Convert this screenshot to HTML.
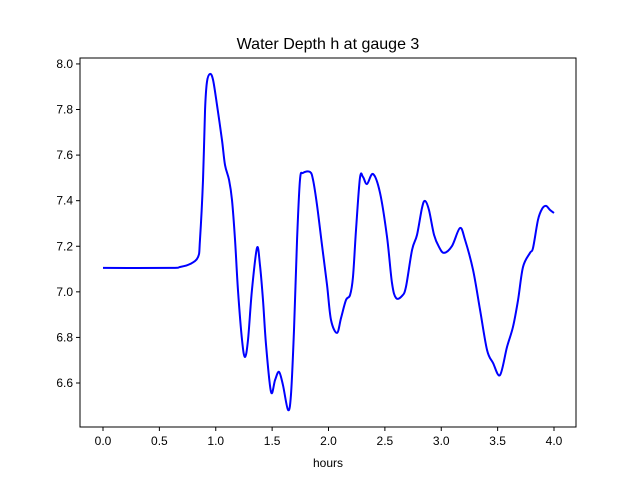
<!DOCTYPE html>
<html><head><meta charset="utf-8"><style>
body{margin:0;background:#fff}
svg{display:block;font-family:"Liberation Sans","DejaVu Sans",sans-serif}
</style></head><body>
<svg id="chart" width="640" height="480">
<rect width="640" height="480" fill="#fff"/>
<text x="328" y="49" text-anchor="middle" font-size="16">Water Depth h at gauge 3</text>
<g id="plot"></g>
<rect x="80" y="58" width="496" height="369" fill="none" stroke="#000" stroke-width="1"/>
<g id="xt"></g><g id="yt"></g>
<text x="328" y="467" text-anchor="middle" font-size="12">hours</text>
</svg>
<script>
const hours=[0,0.594,0.683,0.772,0.843,0.860,0.887,0.905,0.922,0.949,0.976,1.011,1.055,1.082,1.118,1.144,1.171,1.197,1.233,1.259,1.286,1.321,1.366,1.392,1.419,1.446,1.490,1.526,1.561,1.596,1.641,1.667,1.694,1.721,1.747,1.774,1.836,1.863,1.898,1.942,1.987,2.022,2.075,2.111,2.155,2.191,2.217,2.244,2.279,2.306,2.341,2.395,2.457,2.519,2.563,2.599,2.652,2.687,2.741,2.785,2.829,2.856,2.891,2.936,2.980,3.024,3.095,3.166,3.211,3.282,3.344,3.406,3.459,3.521,3.583,3.636,3.681,3.725,3.787,3.814,3.858,3.894,3.929,3.965,4.000];
const depth=[7.105,7.105,7.109,7.122,7.153,7.228,7.491,7.798,7.921,7.956,7.930,7.820,7.667,7.557,7.491,7.403,7.228,7.008,6.789,6.714,6.789,7.008,7.193,7.118,6.964,6.767,6.561,6.613,6.649,6.591,6.482,6.548,6.833,7.228,7.491,7.522,7.526,7.491,7.381,7.206,7.030,6.877,6.820,6.885,6.964,6.986,7.065,7.272,7.500,7.504,7.473,7.517,7.434,7.241,7.039,6.973,6.982,7.022,7.184,7.250,7.368,7.399,7.359,7.250,7.197,7.171,7.201,7.280,7.228,7.096,6.921,6.745,6.688,6.635,6.758,6.846,6.964,7.109,7.171,7.193,7.316,7.364,7.377,7.359,7.346];
const xTicks=[0,0.5,1,1.5,2,2.5,3,3.5,4];
const yTicks=[6.6,6.8,7.0,7.2,7.4,7.6,7.8,8.0];
const X0=-0.204,X1=4.195,Y0=6.407,Y1=8.026;
const L=80,R=576,T=58,B=427;
const sx=v=>L+(v-X0)/(X1-X0)*(R-L);
const sy=v=>B-(v-Y0)/(Y1-Y0)*(B-T);
const NS="http://www.w3.org/2000/svg";
const pts=hours.map((h,i)=>[sx(h),sy(depth[i])]);
let d="M"+pts[0][0]+","+pts[0][1];
for(let i=0;i<pts.length-1;i++){
 const p0=pts[Math.max(0,i-1)],p1=pts[i],p2=pts[i+1],p3=pts[Math.min(pts.length-1,i+2)];
 const c1=[p1[0]+(p2[0]-p0[0])/6,p1[1]+(p2[1]-p0[1])/6];
 const c2=[p2[0]-(p3[0]-p1[0])/6,p2[1]-(p3[1]-p1[1])/6];
 d+=` C${c1[0]},${c1[1]} ${c2[0]},${c2[1]} ${p2[0]},${p2[1]}`;
}
const path=document.createElementNS(NS,"path");


path.setAttribute("d",d);path.setAttribute("fill","none");path.setAttribute("stroke","#0000ff");path.setAttribute("stroke-width","2");
document.getElementById("plot").appendChild(path);
const xt=document.getElementById("xt");
xTicks.forEach(v=>{
 const x=sx(v);
 const l=document.createElementNS(NS,"line");
 
 
 l.setAttribute("x1",x);l.setAttribute("x2",x);l.setAttribute("y1",B);l.setAttribute("y2",B+4);l.setAttribute("stroke","#000");
 xt.appendChild(l);
 const t=document.createElementNS(NS,"text");
 
 
 t.setAttribute("x",x);t.setAttribute("y",B+18);t.setAttribute("text-anchor","middle");t.setAttribute("font-size","12");
 t.textContent=v.toFixed(1);xt.appendChild(t);
});
const yt=document.getElementById("yt");
yTicks.forEach(v=>{
 const y=sy(v);
 const l=document.createElementNS(NS,"line");
 
 
 l.setAttribute("x1",L-4);l.setAttribute("x2",L);l.setAttribute("y1",y);l.setAttribute("y2",y);l.setAttribute("stroke","#000");
 yt.appendChild(l);
 const t=document.createElementNS(NS,"text");
 
 
 t.setAttribute("x",L-7);t.setAttribute("y",y+4);t.setAttribute("text-anchor","end");t.setAttribute("font-size","12");
 t.textContent=v.toFixed(1);yt.appendChild(t);
});
</script>
</body></html>
